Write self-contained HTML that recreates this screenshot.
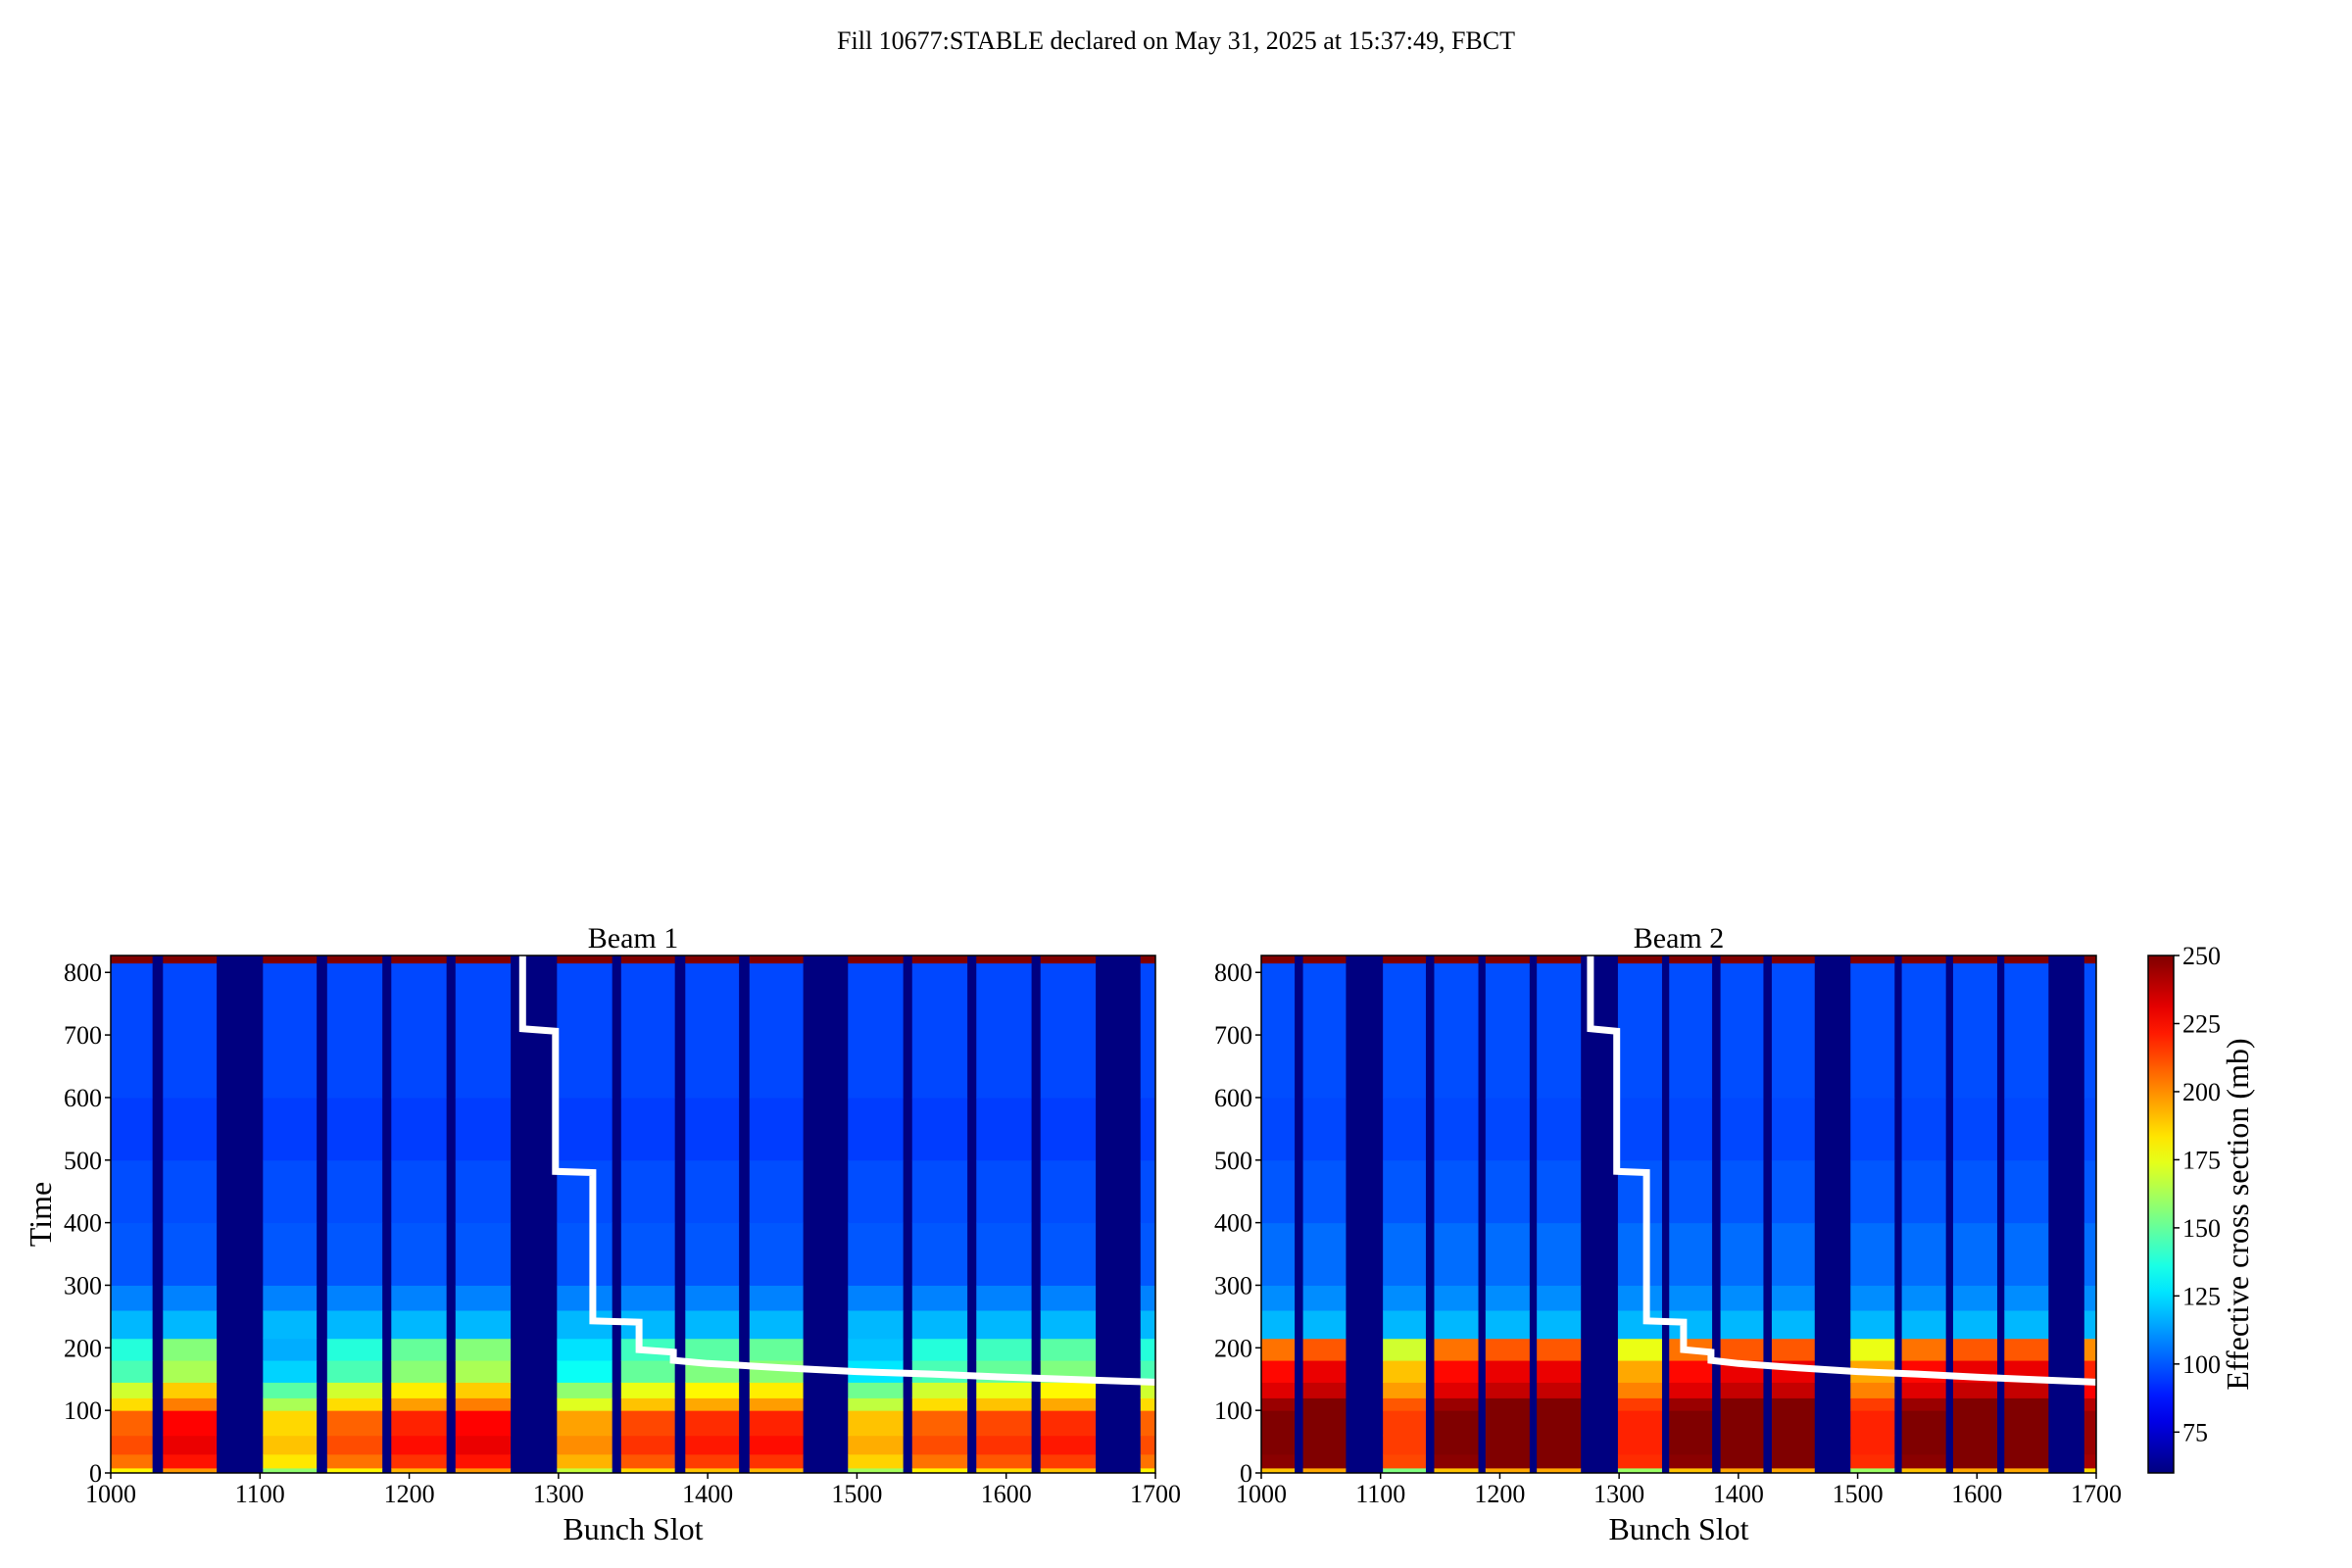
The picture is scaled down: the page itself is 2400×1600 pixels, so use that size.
<!DOCTYPE html>
<html><head><meta charset="utf-8"><style>
html,body{margin:0;padding:0;background:#fff;}
svg{display:block;font-family:"Liberation Serif",serif;}
</style></head><body>
<svg id="fig" width="2400" height="1600" viewBox="0 0 2400 1600" xmlns="http://www.w3.org/2000/svg">
<defs><linearGradient id="jetgrad" x1="0" y1="1" x2="0" y2="0"></linearGradient></defs>
<text x="1200" y="50" font-size="26" text-anchor="middle">Fill 10677:STABLE declared on May 31, 2025 at 15:37:49, FBCT</text>
<g id="p1"></g>
<g id="p2"></g>
<g id="cb"></g>
</svg>
<script>
// ---- data ----
const trains = [[1000,1028],[1035,1071],[1102,1138],[1145,1182],[1188,1225],[1231,1268],[1299,1336],[1342,1378],[1385,1421],[1428,1464],[1494,1531],[1537,1574],[1580,1617],[1623,1660],[1690,1700]];
const timeEdges = [0,8,30,60,100,120,145,180,215,260,300,400,500,600,815,827];
const beam1Profile = [180,205,212,208,185,170,145,138,118,108,100,98,95,97,250];
const beam2Profile = [190,248,250,250,245,232,225,205,118,110,104,100,97,98,250];
const beam1TrainBoost = [0,18,-22,0,12,18,-12,5,10,12,-18,0,5,10,0];
const beam2TrainBoost = [0,5,-35,0,5,5,-30,0,5,5,-30,0,5,5,-5];
const stepSlots = [1276,1276,1298,1298,1323,1323,1354,1354,1377,1377,1400,1450,1500,1550,1600,1650,1700];
const stepTimes = [827,710,706,482,480,243,241,197,193,180,175,168,162,158,153,149,145];
const xTicks = [1000,1100,1200,1300,1400,1500,1600,1700];
const yTicks = [0,100,200,300,400,500,600,700,800];
const cbTicks = [75,100,125,150,175,200,225,250];
// ---- scales ----
const VMIN=60, VMAX=250, TMAX=827;
const NS='http://www.w3.org/2000/svg';
function jet(v){
  let t=Math.max(0,Math.min(1,(v-VMIN)/(VMAX-VMIN)));
  const c=x=>Math.round(255*Math.max(0,Math.min(1,x)));
  return `rgb(${c(1.5-Math.abs(4*t-3))},${c(1.5-Math.abs(4*t-2))},${c(1.5-Math.abs(4*t-1))})`;
}
function mk(tag,attrs,parent){const e=document.createElementNS(NS,tag);for(const k in attrs)e.setAttribute(k,attrs[k]);parent.appendChild(e);return e;}
function panel(g,L,R,T,B,profile,boost,title,showY){
  const sx=s=>L+(s-1000)/700*(R-L);
  const sy=t=>B-t/TMAX*(B-T);
  const bg=mk('rect',{x:L,y:T,width:R-L,height:B-T,fill:jet(VMIN-10)},g);
  
  
  trains.forEach((tr,i)=>{
    for(let b=0;b<profile.length;b++){
      let v=profile[b];
      if(timeEdges[b]<215 && b<profile.length-1) v+=boost[i];
      const r=mk('rect',{x:sx(tr[0]),y:sy(timeEdges[b+1]),width:sx(tr[1])-sx(tr[0]),height:sy(timeEdges[b])-sy(timeEdges[b+1])+0.5,fill:jet(v)},g);
      
      
    }
  });
  let d='';
  stepSlots.forEach((s,i)=>{d+=(i?'L':'M')+sx(s).toFixed(1)+','+sy(stepTimes[i]).toFixed(1);});
  const ln=mk('path',{d:d,fill:'none',stroke:'#fff','stroke-width':7,'stroke-linejoin':'miter'},g);
  
  
  const fr=mk('rect',{x:L,y:T,width:R-L,height:B-T,fill:'none',stroke:'#000','stroke-width':1.5},g);
  
  
  xTicks.forEach(v=>{
    mk('line',{x1:sx(v),x2:sx(v),y1:B,y2:B+6,stroke:'#000','stroke-width':1.5},g);
    const t=mk('text',{x:sx(v),y:B+30,'font-size':26,'text-anchor':'middle'},g);t.textContent=v;
    
    
  });
  yTicks.forEach(v=>{
    mk('line',{x1:L,x2:L-6,y1:sy(v),y2:sy(v),stroke:'#000','stroke-width':1.5},g);
    const t=mk('text',{x:L-9,y:sy(v)+9,'font-size':26,'text-anchor':'end'},g);t.textContent=v;
    
    
  });
  const tt=mk('text',{x:(L+R)/2,y:T-8,'font-size':30,'text-anchor':'middle'},g);tt.textContent=title;
  
  
  const xl=mk('text',{x:(L+R)/2,y:B+68,'font-size':32,'text-anchor':'middle'},g);xl.textContent='Bunch Slot';
  
  
  if(showY){
    const yl=mk('text',{x:0,y:0,'font-size':32,'text-anchor':'middle',transform:`translate(52,${(T+B)/2}) rotate(-90)`},g);yl.textContent='Time';
    
    
  }
}
panel(document.getElementById('p1'),113,1179,975,1503,beam1Profile,beam1TrainBoost,'Beam 1',true);
panel(document.getElementById('p2'),1287,2139,975,1503,beam2Profile,beam2TrainBoost,'Beam 2',false);
// colorbar
const grad=document.getElementById('jetgrad');
for(let i=0;i<=20;i++){mk('stop',{offset:i/20,'stop-color':jet(VMIN+i/20*(VMAX-VMIN))},grad);}
const cb=document.getElementById('cb');
const CL=2192,CR=2218,CT=975,CB=1503;
const cy=v=>CB-(v-VMIN)/(VMAX-VMIN)*(CB-CT);
const cbr=mk('rect',{x:CL,y:CT,width:CR-CL,height:CB-CT,fill:'url(#jetgrad)',stroke:'#000','stroke-width':1.5},cb);


cbTicks.forEach(v=>{
  mk('line',{x1:CR,x2:CR+6,y1:cy(v),y2:cy(v),stroke:'#000','stroke-width':1.5},cb);
  const t=mk('text',{x:CR+9,y:cy(v)+9,'font-size':26},cb);t.textContent=v;
  
  
});
const cl=mk('text',{x:0,y:0,'font-size':32,'text-anchor':'middle',transform:`translate(2294,${(CT+CB)/2}) rotate(-90)`},cb);
cl.textContent='Effective cross section (mb)';


</script>
</body></html>
